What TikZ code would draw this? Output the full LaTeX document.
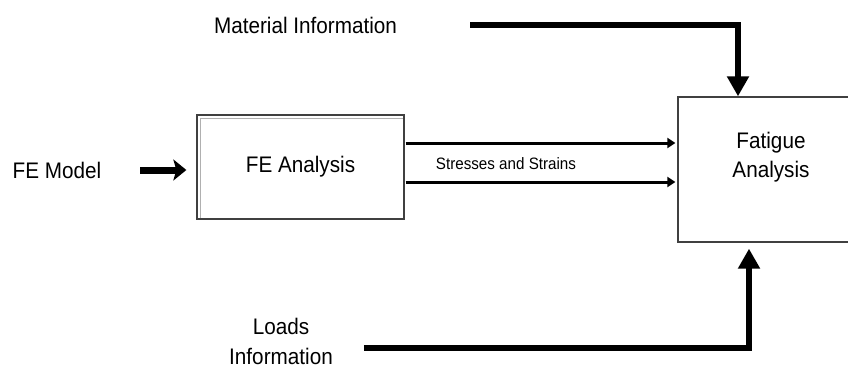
\documentclass[tikz,border=0pt]{standalone}
\usepackage{fontspec}
\setmainfont{Liberation Sans}[FakeStretch=0.92]
\definecolor{BoxEdge}{HTML}{404040}
\definecolor{BoxInner}{HTML}{B0B0B0}
\usetikzlibrary{arrows.meta, calc, positioning}

\begin{document}
\begin{tikzpicture}[x=1pt, y=-1pt,
   label/.style={inner sep=0pt, font=\fontsize{22.5}{29.5}\selectfont, align=center},
   block/.style={draw=BoxEdge, line width=1.3pt, inner sep=0pt},
   bigarrow/.style={line width=6pt, -{Triangle[length=20pt, width=21pt]}},
   fatarrow/.style={line width=7pt, -{Stealth[length=13pt, width=21pt, inset=3pt]}},
   thinarrow/.style={line width=3pt, -{Triangle[length=8pt, width=10pt]}}]
            \useasboundingbox (0,0) rectangle (848,369);
            \clip (0,0) rectangle (848,369);
            % Blocks
            \node[block, label, minimum width=207pt, minimum height=104pt] (feana) at (300.5,167) {FE Analysis};
            \draw[BoxInner, line width=0.8pt] ([shift={(4pt,1.5pt)}]feana.south west) |- ([shift={(-1.5pt,-4pt)}]feana.north east);
            \node[block, minimum width=186pt, minimum height=145pt] (fatigue) at (771,169.5) {};
            \node[label] (fatiguetxt) at (771,157) {Fatigue\\Analysis};
            % Inputs
            \node[label] (model) at (57,170) {FE Model};
            \node[label] (matinfo) at (305.5,25) {Material Information};
            \node[label] (loadinfo) at (281,341.5) {Loads\\Information};
            \node[label, font=\fontsize{16.5}{18}\selectfont] (stress) at (506,164) {Stresses and Strains};
            % Helper points
            \coordinate (s1) at ([yshift=24pt]feana.east);
            \coordinate (s2) at ([yshift=-15pt]feana.east);
            \coordinate (matin) at ([xshift=-33pt]fatigue.north);
            \coordinate (loadin) at ([xshift=-22pt, yshift=-6pt]fatigue.south);
            \coordinate (loadout) at ([yshift=-6.5pt]loadinfo.east);
            % Connectors
            \draw[fatarrow, shorten <=39pt, shorten >=10pt] (model.east) -- (model.east -| feana.west);
            \draw[thinarrow, shorten <=1pt, shorten >=2pt] (s1) -- (s1 -| fatigue.west);
            \draw[thinarrow, shorten <=1pt, shorten >=2pt] (s2) -- (s2 -| fatigue.west);
            \draw[bigarrow, shorten <=73pt] (matinfo.east) -| (matin);
            \draw[bigarrow, shorten <=31pt] (loadout) -| (loadin);
         \end{tikzpicture}
\end{document}
